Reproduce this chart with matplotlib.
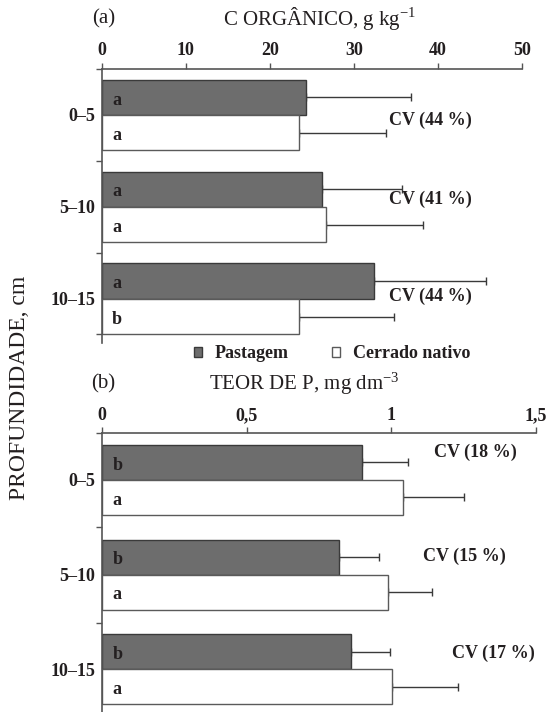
import matplotlib
matplotlib.use("Agg")
import matplotlib.pyplot as plt
import numpy as np

# depth classes (cm)
depths = ["0–5", "5–10", "10–15"]

# panel (a) organic carbon, g kg-1
c_pastagem = [24.3, 26.2, 32.4]
c_pastagem_err = [12.5, 9.5, 13.4]
c_cerrado = [23.5, 26.7, 23.5]
c_cerrado_err = [10.3, 11.5, 11.3]
c_let_pastagem = ["a", "a", "a"]
c_let_cerrado = ["a", "a", "b"]
c_cv = ["CV (44 %)", "CV (41 %)", "CV (44 %)"]

# panel (b) P content, mg dm-3
p_pastagem = [0.897, 0.819, 0.86]
p_pastagem_err = [0.16, 0.14, 0.134]
p_cerrado = [1.042, 0.99, 1.002]
p_cerrado_err = [0.21, 0.15, 0.227]
p_let_pastagem = ["b", "b", "b"]
p_let_cerrado = ["a", "a", "a"]
p_cv = ["CV (18 %)", "CV (15 %)", "CV (17 %)"]

plt.rcParams["font.family"] = ["Liberation Serif", "DejaVu Serif"]
plt.rcParams["mathtext.fontset"] = "stix"

TXT = "#231f20"
AXC = "#555555"
DARK = "#6d6d6d"


def draw_panel(ax, past, past_err, cerr, cerr_err, let_p, let_c, cv, cv_pos,
               xmax, xticks, xticklabels, bar_h, ylim, yminor):
    y = np.arange(len(depths))
    ax.barh(y - bar_h / 2, past, height=bar_h, color=DARK, edgecolor="#3a3a3a",
            linewidth=1, zorder=2, label="Pastagem")
    ax.barh(y + bar_h / 2, cerr, height=bar_h, color="white", edgecolor="#5a5a5a",
            linewidth=1, zorder=2, label="Cerrado nativo")
    ax.errorbar(past, y - bar_h / 2, xerr=[np.zeros(3), past_err], fmt="none",
                ecolor="#3a3a3a", elinewidth=1, capsize=3, capthick=1, zorder=1)
    ax.errorbar(cerr, y + bar_h / 2, xerr=[np.zeros(3), cerr_err], fmt="none",
                ecolor="#3a3a3a", elinewidth=1, capsize=3, capthick=1, zorder=1)
    for i in range(3):
        ax.text(0.024 * xmax, y[i] - bar_h / 2 + 0.03, let_p[i], fontsize=13,
                fontweight="bold", color=TXT, va="center", zorder=3)
        ax.text(0.024 * xmax, y[i] + bar_h / 2 + 0.03, let_c[i], fontsize=13,
                fontweight="bold", color=TXT, va="center", zorder=3)
        ax.text(cv_pos[i][0], y[i] + cv_pos[i][1], cv[i], fontsize=13,
                fontweight="bold", color=TXT, va="center", ha="left")

    ax.set_xlim(0, xmax)
    ax.set_ylim(*ylim)
    ax.xaxis.tick_top()
    ax.set_xticks(xticks)
    ax.set_xticklabels(xticklabels, fontsize=13, fontweight="bold", color=TXT)
    ax.tick_params(axis="x", direction="out", length=4, width=1, color=AXC, pad=3)
    ax.set_yticks(y)
    ax.set_yticklabels(depths, fontsize=13, fontweight="bold", color=TXT)
    ax.tick_params(axis="y", which="major", length=0, pad=5)
    ax.set_yticks(yminor, minor=True)
    ax.tick_params(axis="y", which="minor", direction="out", length=4, width=1, color=AXC)
    for s in ["right", "bottom"]:
        ax.spines[s].set_visible(False)
    for s in ["left", "top"]:
        ax.spines[s].set_color(AXC)
        ax.spines[s].set_linewidth(1.2)


fig = plt.figure(figsize=(5.47, 7.12), dpi=100)

ax1 = fig.add_axes([0.1865, 0.5183, 0.9537 - 0.1865, 0.9031 - 0.5183])
draw_panel(ax1, c_pastagem, c_pastagem_err, c_cerrado, c_cerrado_err,
           c_let_pastagem, c_let_cerrado, c_cv,
           [(34.2, 0.06), (34.2, -0.08), (34.2, -0.025)],
           50, [0, 10, 20, 30, 40, 50], ["0", "10", "20", "30", "40", "50"],
           0.385, (2.48, -0.5), [-0.5, 0.5, 1.5, 2.38])

ax2 = fig.add_axes([0.1865, 0.0, 0.9799 - 0.1865, 0.3912])
draw_panel(ax2, p_pastagem, p_pastagem_err, p_cerrado, p_cerrado_err,
           p_let_pastagem, p_let_cerrado, p_cv,
           [(1.148, -0.29), (1.11, -0.19), (1.21, -0.166)],
           1.5, [0, 0.5, 1, 1.5], ["0", "0,5", "1", "1,5"],
           0.37, (2.45, -0.49), [-0.49, 0.5, 1.51])

fig.text(92 / 547, 1 - 19 / 712, "(a)", fontsize=15, color=TXT, ha="left", va="center")
fig.text(320 / 547, 1 - 19 / 712, r"C ORGÂNICO, g kg$^{\mathregular{-1}}$", fontsize=15,
         color=TXT, ha="center", va="center")
fig.text(91 / 547, 1 - 384 / 712, "(b)", fontsize=15, color=TXT, ha="left", va="center")
fig.text(304 / 547, 1 - 384 / 712, r"TEOR DE P, mg dm$^{\mathregular{-3}}$", fontsize=15,
         color=TXT, ha="center", va="center")
fig.text(20 / 547, 1 - 388 / 712, "PROFUNDIDADE, cm", fontsize=17, color=TXT,
         rotation=90, ha="center", va="center")

h, l = ax1.get_legend_handles_labels()
leg = fig.legend(h, l, loc="center", bbox_to_anchor=(332 / 547, 1 - 354 / 712),
                 ncol=2, frameon=False, handlelength=0.45, handleheight=0.45,
                 handletextpad=0.7, columnspacing=2.4,
                 prop={"size": 13, "weight": "bold"})
for t in leg.get_texts():
    t.set_color(TXT)

fig.savefig("out.png", dpi=100)
